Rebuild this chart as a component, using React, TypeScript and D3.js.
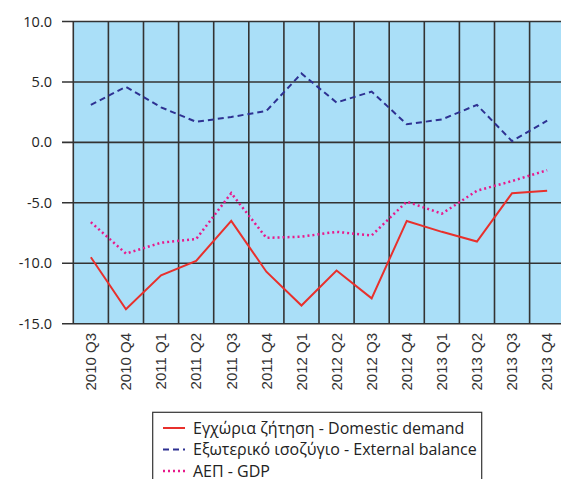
import React, { useEffect, useRef } from 'react';
import * as d3 from 'd3';

const quarters = [
  '2010 Q3', '2010 Q4', '2011 Q1', '2011 Q2', '2011 Q3', '2011 Q4', '2012 Q1',
  '2012 Q2', '2012 Q3', '2012 Q4', '2013 Q1', '2013 Q2', '2013 Q3', '2013 Q4',
];
const domesticDemand = [-9.5, -13.8, -11.0, -9.8, -6.5, -10.7, -13.5, -10.6, -12.9, -6.5, -7.4, -8.2, -4.2, -4.0];
const externalBalance = [3.1, 4.6, 2.9, 1.7, 2.1, 2.6, 5.7, 3.3, 4.2, 1.5, 1.9, 3.1, 0.1, 1.8];
const gdp = [-6.6, -9.2, -8.3, -8.0, -4.2, -7.9, -7.8, -7.4, -7.7, -4.9, -5.9, -4.0, -3.2, -2.3];
const yTicks = [10, 5, 0, -5, -10, -15];

const series = [
  { name: 'Εγχώρια ζήτηση - Domestic demand', values: domesticDemand, color: '#e8302c', dash: null, width: 2 },
  { name: 'Εξωτερικό ισοζύγιο - External balance', values: externalBalance, color: '#2e3192', dash: '6,4', width: 2 },
  { name: 'ΑΕΠ - GDP', values: gdp, color: '#e8198b', dash: '2,3', width: 2.5 },
];

const App = () => {
  const svgRef = useRef<SVGSVGElement>(null);

  useEffect(() => {
    const svg = d3.select(svgRef.current);
    svg.selectAll('*').remove();

    const margin = { top: 21.5, left: 73.3 };
    const bandW = 35.1;
    const plotW = bandW * quarters.length;
    const plotBottom = 323.7;

    const x = d3.scaleBand().domain(quarters).range([margin.left, margin.left + plotW]);
    const y = d3.scaleLinear().domain([-15, 10]).range([plotBottom, margin.top]);

    svg.append('rect')
      .attr('x', margin.left)
      .attr('y', margin.top)
      .attr('width', plotW)
      .attr('height', plotBottom - margin.top)
      .style('fill', '#aadff8');

    // horizontal grid + ticks
    svg.append('g')
      .selectAll('line')
      .data(yTicks)
      .enter()
      .append('line')
      .attr('x1', 62)
      .attr('x2', margin.left + plotW)
      .attr('y1', d => y(d))
      .attr('y2', d => y(d))
      .style('stroke', '#333')
      .style('stroke-width', 1.6);

    // vertical grid
    const bounds = quarters.map(q => x(q) as number).concat([margin.left + plotW]);
    svg.append('g')
      .selectAll('line')
      .data(bounds)
      .enter()
      .append('line')
      .attr('x1', d => d)
      .attr('x2', d => d)
      .attr('y1', margin.top)
      .attr('y2', plotBottom)
      .style('stroke', '#333')
      .style('stroke-width', 1.6);

    svg.append('g')
      .selectAll('text')
      .data(yTicks)
      .enter()
      .append('text')
      .attr('x', 52)
      .attr('y', d => y(d))
      .attr('dy', '0.35em')
      .attr('text-anchor', 'end')
      .style('font-family', '"Open Sans", sans-serif')
      .style('font-size', '14.5px')
      .style('fill', '#222')
      .text(d => d.toFixed(1));

    svg.append('g')
      .selectAll('text')
      .data(quarters)
      .enter()
      .append('text')
      .attr('transform', d => `translate(${(x(d) as number) + bandW / 2},333) rotate(-90)`)
      .attr('dy', '0.35em')
      .attr('text-anchor', 'end')
      .style('font-family', '"Liberation Sans", Arial, sans-serif')
      .style('font-size', '15px')
      .style('font-weight', 'normal')
      .style('fill', '#333')
      .text(d => d);

    const line = d3.line<number>()
      .x((d, i) => (x(quarters[i]) as number) + bandW / 2)
      .y(d => y(d));

    series.forEach(s => {
      svg.append('path')
        .datum(s.values)
        .attr('d', line)
        .style('fill', 'none')
        .style('stroke', s.color)
        .style('stroke-width', s.width)
        .style('stroke-dasharray', s.dash);
    });

    // legend
    const lg = svg.append('g');
    lg.append('rect')
      .attr('x', 152.7)
      .attr('y', 412.3)
      .attr('width', 329)
      .attr('height', 80)
      .style('fill', '#fff')
      .style('stroke', '#333')
      .style('stroke-width', 1.2);

    series.forEach((s, i) => {
      const cy = 428 + i * 21.5;
      lg.append('line')
        .attr('x1', 163)
        .attr('x2', 185)
        .attr('y1', cy)
        .attr('y2', cy)
        .style('stroke', s.color)
        .style('stroke-width', s.width)
        .style('stroke-dasharray', s.dash);
      lg.append('text')
        .attr('x', 193)
        .attr('y', cy)
        .attr('dy', '0.35em')
        .style('font-family', '"Open Sans", sans-serif')
        .style('font-size', '16px')
        .style('fill', '#222')
        .text(s.name);
    });
  }, []);

  return (
    <svg
      ref={svgRef}
      width={561}
      height={479}
      style={{ position: 'absolute', left: 0, top: 0, background: '#fff' }}
    />
  );
};

export default App;
